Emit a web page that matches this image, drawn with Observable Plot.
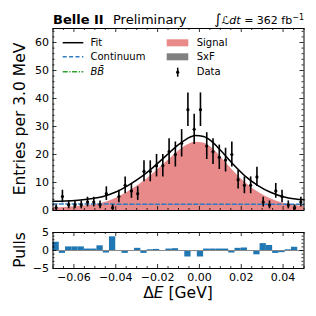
<!DOCTYPE html>
<html><head><meta charset="utf-8">
<script src="https://cdn.jsdelivr.net/npm/d3@7"></script>
<script src="https://cdn.jsdelivr.net/npm/@observablehq/plot@0.6"></script>
<style>
body{margin:0;background:#fff;}
#chart{width:316px;height:316px;position:relative;font-family:"DejaVu Sans";}
#chart svg{display:block;}
</style></head><body><div id="chart"></div>
<script>
// ---- data ----
const binCenters = [-0.0685,-0.0655,-0.0625,-0.0595,-0.0565,-0.0535,-0.0505,-0.0475,-0.0445,-0.0415,
  -0.0385,-0.0355,-0.0325,-0.0295,-0.0265,-0.0235,-0.0205,-0.0175,-0.0145,-0.0115,
  -0.0085,-0.0055,-0.0025,0.0005,0.0035,0.0065,0.0095,0.0125,0.0155,0.0185,
  0.0215,0.0245,0.0275,0.0305,0.0335,0.0365,0.0395,0.0425,0.0455,0.0485];
const dataCounts = [1,5,2,2,2,3,3,2,6,1, 5,9,7,6,14,14,16,16,21,20, 24,36,29,36,23,21,19,18,20,11, 9,9,12,3,2,7,5,2,1,3];
const pullValues = [2.3,-0.8,1.0,1.0,1.0,0.4,0.4,1.3,-0.7,3.8, 0.0,-0.8,0.0,0.6,-0.8,0.2,0.3,0.0,0.4,0.5,
  0.0,-1.8,-0.3,-1.8,0.4,0.4,0.4,0.4,-0.7,0.6, 0.7,0.0,-1.2,1.9,1.4,-0.8,-0.6,0.2,0.9,-0.3];
const curveX  = [-0.070,-0.064,-0.058,-0.052,-0.046,-0.040,-0.034,-0.028,-0.022,-0.016,-0.010,-0.006,-0.002,0.002,0.006,0.010,0.016,0.022,0.028,0.034,0.040,0.046,0.050];
const fitY    = [3.3,3.4,3.7,4.2,5.0,6.6,9.0,11.9,15.5,19.5,23.5,25.6,26.8,26.4,24.6,21.6,16.6,12.2,8.9,6.5,4.9,4.1,3.8];
const signalY = [1.0,1.1,1.4,1.9,2.7,4.3,6.7,9.6,13.2,17.2,21.2,23.3,24.4,24.1,22.3,19.3,14.3,9.9,6.6,4.2,2.6,1.8,1.5];
const continuumX = [-0.070, 0.050];
const continuumY = [2.3, 2.2];
const xTickValues = [-0.06,-0.04,-0.02,0.00,0.02,0.04];
const yTickValues = [0,10,20,30,40,50,60];
const pullTickValues = [-5,0,5];
const legendLeft = ["Fit","Continuum","BB\u0304"];
const legendRight = ["Signal","SxF","Data"];

// ---- layout ----
const W = 316, ml = 52.5, mr = 12.5;
const innerW = W - ml - mr;
const h1 = 220, mt1 = 28, mb1 = 10, innerH1 = h1 - mt1 - mb1;
const h2 = 96, mt2 = 12, mb2 = 48, innerH2 = h2 - mt2 - mb2;
const xDomain = [-0.07, 0.05];
const FONT = "DejaVu Sans";

const points = binCenters.map((x,i)=>({x, n: dataCounts[i], pull: pullValues[i]}));
const curveRows = curveX.map((x,i)=>({x, fit: fitY[i], sig: signalY[i]}));
const contRows = continuumX.map((x,i)=>({x, y: continuumY[i]}));

const xMinor = d3.range(-70, 51, 5).map(v=>v/1000).filter(v=>!xTickValues.some(t=>Math.abs(t-v)<1e-9));
const yMinor1 = d3.range(0, 65, 2).filter(v=>v%10!==0);
const yMinor2 = d3.range(-5, 6, 1).filter(v=>v%5!==0);

function ticksX(vals, len, innerH){
  return [Plot.ruleX(vals,{x:d=>d, insetTop: innerH-len, stroke:"black", strokeWidth:0.8}),
          Plot.ruleX(vals,{x:d=>d, insetBottom: innerH-len, stroke:"black", strokeWidth:0.8})];
}
function ticksY(vals, len){
  return [Plot.ruleY(vals,{y:d=>d, insetRight: innerW-len, stroke:"black", strokeWidth:0.8}),
          Plot.ruleY(vals,{y:d=>d, insetLeft: innerW-len, stroke:"black", strokeWidth:0.8})];
}

const plot1 = Plot.plot({
  width: W, height: h1, marginTop: mt1, marginBottom: mb1, marginLeft: ml, marginRight: mr,
  style: {fontFamily: FONT, fontSize: "11px", background: "transparent", overflow: "visible", color: "black"},
  x: {domain: xDomain, axis: null},
  y: {domain: [0, 65], axis: null},
  marks: [
    Plot.areaY(curveRows, {x:"x", y:"sig", fill:"#e8898a", curve:"monotone-x"}),
    Plot.lineY(contRows, {x:"x", y:"y", stroke:"#2f7bbf", strokeWidth:1.5, strokeDasharray:"4,2.4"}),
    Plot.lineY(curveRows, {x:"x", y:"fit", stroke:"black", strokeWidth:1.5, curve:"monotone-x"}),
    Plot.ruleX(points, {x:"x", y1:d=>d.n-Math.sqrt(d.n), y2:d=>d.n+Math.sqrt(d.n), stroke:"black", strokeWidth:1.6}),
    Plot.dot(points, {x:"x", y:"n", r:1.6, fill:"black"}),
    Plot.frame({stroke:"black", strokeWidth:1}),
    ...ticksX(xTickValues, 4, innerH1), ...ticksX(xMinor, 2, innerH1),
    ...ticksY(yTickValues, 4), ...ticksY(yMinor1, 2),
    Plot.axisY({ticks: yTickValues, tickSize:0, tickPadding:4, label:null, fontSize:11})
  ]
});

const plot2 = Plot.plot({
  width: W, height: h2, marginTop: mt2, marginBottom: mb2, marginLeft: ml, marginRight: mr,
  style: {fontFamily: FONT, fontSize: "11px", background: "transparent", overflow: "visible", color: "black"},
  x: {domain: xDomain, axis: null},
  y: {domain: [-5, 5], axis: null},
  marks: [
    Plot.rect(points, {x1:d=>d.x-0.0015, x2:d=>d.x+0.0015, y1:0, y2:"pull", fill:"#1f77b4", inset:0}),
    Plot.ruleY([0], {stroke:"#888", strokeWidth:1}),
    Plot.frame({stroke:"black", strokeWidth:1}),
    ...ticksX(xTickValues, 4, innerH2), ...ticksX(xMinor, 2, innerH2),
    ...ticksY(pullTickValues, 4), ...ticksY(yMinor2, 2),
    Plot.axisX({ticks: xTickValues, tickSize:0, tickPadding:5, tickFormat:d3.format(".2f"), label:null, fontSize:11}),
    Plot.axisY({ticks: pullTickValues, tickSize:0, tickPadding:4, tickFormat:d3.format("d"), label:null, fontSize:11})
  ]
});

// ---- header, legend and axis titles ----
const s1 = d3.select(plot1);
const hdr = s1.append("g").attr("font-family", FONT).attr("fill","black").attr("text-anchor","start");
hdr.append("text").attr("x", 53).attr("y", 24).attr("font-size", 13).attr("font-weight","bold").text("Belle II");
hdr.append("text").attr("x", 113).attr("y", 24).attr("font-size", 13).text("Preliminary");
const lum = hdr.append("text").attr("x", 304).attr("y", 24).attr("font-size", 11).attr("text-anchor","end");
lum.append("tspan").attr("font-size", 14).text("\u222B");
lum.append("tspan").attr("font-style","italic").text("\u2112dt");
lum.append("tspan").text(" = 362 fb");
lum.append("tspan").attr("font-size", 8).attr("dy", -4).text("\u22121");

s1.append("text").attr("font-family", FONT).attr("font-size", 15.5).attr("fill","black")
  .attr("text-anchor","middle").attr("transform","translate(25,119) rotate(-90)").text("Entries per 3.0 MeV");

const lg = s1.append("g").attr("font-family", FONT).attr("font-size", 10).attr("fill","black").attr("text-anchor","start");
const rowY = [42.7, 56.7, 71.7];
lg.append("line").attr("x1",62.7).attr("x2",83.3).attr("y1",rowY[0]).attr("y2",rowY[0]).attr("stroke","black").attr("stroke-width",1.5);
lg.append("line").attr("x1",62.7).attr("x2",83.3).attr("y1",rowY[1]).attr("y2",rowY[1]).attr("stroke","#2f7bbf").attr("stroke-width",1.5).attr("stroke-dasharray","4,2.4");
lg.append("line").attr("x1",62.7).attr("x2",83.3).attr("y1",rowY[2]).attr("y2",rowY[2]).attr("stroke","#2ca02c").attr("stroke-width",1.5).attr("stroke-dasharray","5,1.6,1.2,1.6");
legendLeft.forEach((t,i)=>{
  const el = lg.append("text").attr("x",90.5).attr("y",rowY[i]).attr("dy","0.36em").text(t);
  if (i===2) el.attr("font-style","italic");
});
lg.append("rect").attr("x",166.7).attr("y",39.3).attr("width",21.6).attr("height",7).attr("fill","#e8898a");
lg.append("rect").attr("x",166.7).attr("y",53.3).attr("width",21.6).attr("height",7).attr("fill","#808080");
lg.append("line").attr("x1",177.7).attr("x2",177.7).attr("y1",67.7).attr("y2",76.7).attr("stroke","black").attr("stroke-width",1.5);
lg.append("circle").attr("cx",177.7).attr("cy",72.2).attr("r",1.6).attr("fill","black");
legendRight.forEach((t,i)=>{
  lg.append("text").attr("x",196.7).attr("y",rowY[i]).attr("dy","0.36em").text(t);
});

const s2 = d3.select(plot2);
s2.append("text").attr("font-family", FONT).attr("font-size", 15.5).attr("fill","black")
  .attr("text-anchor","middle").attr("transform","translate(25,30) rotate(-90)").text("Pulls");
const xl = s2.append("text").attr("font-family", FONT).attr("font-size", 15.5).attr("fill","black")
  .attr("text-anchor","middle").attr("x", 178).attr("y", 78);
xl.append("tspan").text("\u0394");
xl.append("tspan").attr("font-style","italic").text("E");
xl.append("tspan").text(" [GeV]");

const root = document.getElementById("chart");
root.append(plot1);
root.append(plot2);
</script></body></html>
